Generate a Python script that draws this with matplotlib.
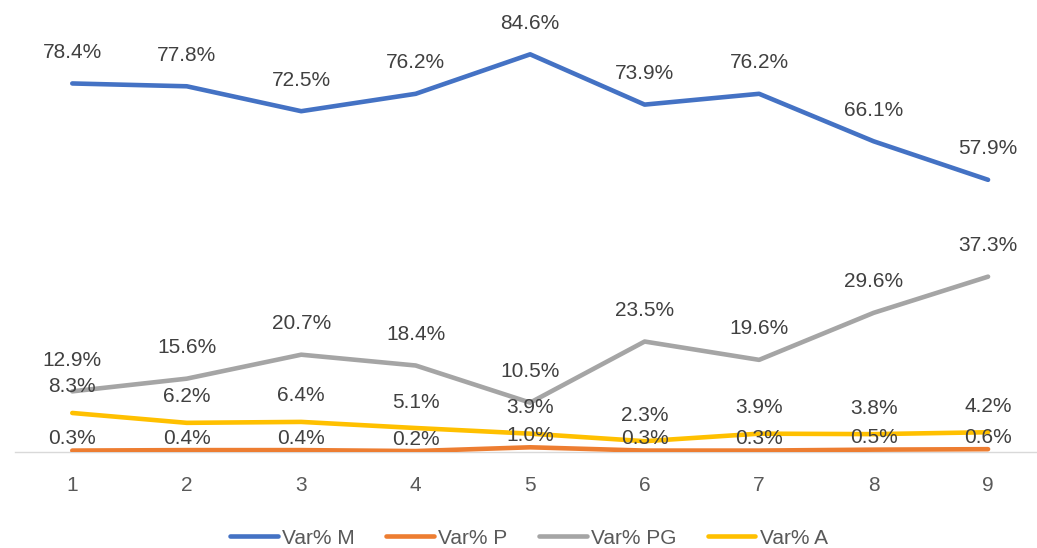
import matplotlib
matplotlib.use('Agg')
from matplotlib import pyplot as plt

plt.rcParams['font.family'] = ['Liberation Sans', 'DejaVu Sans']

x = [1, 2, 3, 4, 5, 6, 7, 8, 9]
var_m = [78.4, 77.8, 72.5, 76.2, 84.6, 73.9, 76.2, 66.1, 57.9]
var_p = [0.3, 0.4, 0.4, 0.2, 1.0, 0.3, 0.3, 0.5, 0.6]
var_pg = [12.9, 15.6, 20.7, 18.4, 10.5, 23.5, 19.6, 29.6, 37.3]
var_a = [8.3, 6.2, 6.4, 5.1, 3.9, 2.3, 3.9, 3.8, 4.2]

# name, values, colour, label offset above the point (px)
series = [('Var% M', var_m, '#4472C4', 31),
          ('Var% P', var_p, '#ED7D31', 12),
          ('Var% PG', var_pg, '#A5A5A5', 31),
          ('Var% A', var_a, '#FFC000', 26)]

fig = plt.figure(figsize=(10.37, 5.48), dpi=100)
ax = fig.add_axes([0.0145, 0.1752, 0.9935, 0.772])

for name, vals, col, off in series:
    ax.plot(x, vals, color=col, lw=3.3, label=name, solid_capstyle='round',
            solid_joinstyle='round')
for name, vals, col, off in series:
    for xi, v in zip(x, vals):
        ax.annotate('%.1f%%' % v, (xi, v), xytext=(0, off), textcoords='offset pixels',
                    ha='center', va='center', fontsize=15, color='#404040')

ax.set_xlim(0.5, 9.5)
ax.set_ylim(0, 90)
ax.set_yticks([])
ax.set_xticks(x)
ax.tick_params(axis='x', length=0, pad=17, labelsize=15, labelcolor='#595959')
for s in ['top', 'right', 'left']:
    ax.spines[s].set_visible(False)
ax.spines['bottom'].set_color('#D9D9D9')
ax.spines['bottom'].set_linewidth(1)
ax.spines['bottom'].set_zorder(0)

leg = fig.legend(loc='center', ncol=4, frameon=False, fontsize=15,
                 handlelength=2.3, columnspacing=1.5, handletextpad=0.2,
                 bbox_to_anchor=(0.51, 0.018))
for t in leg.get_texts():
    t.set_color('#595959')

fig.savefig('out.png', dpi=100)
